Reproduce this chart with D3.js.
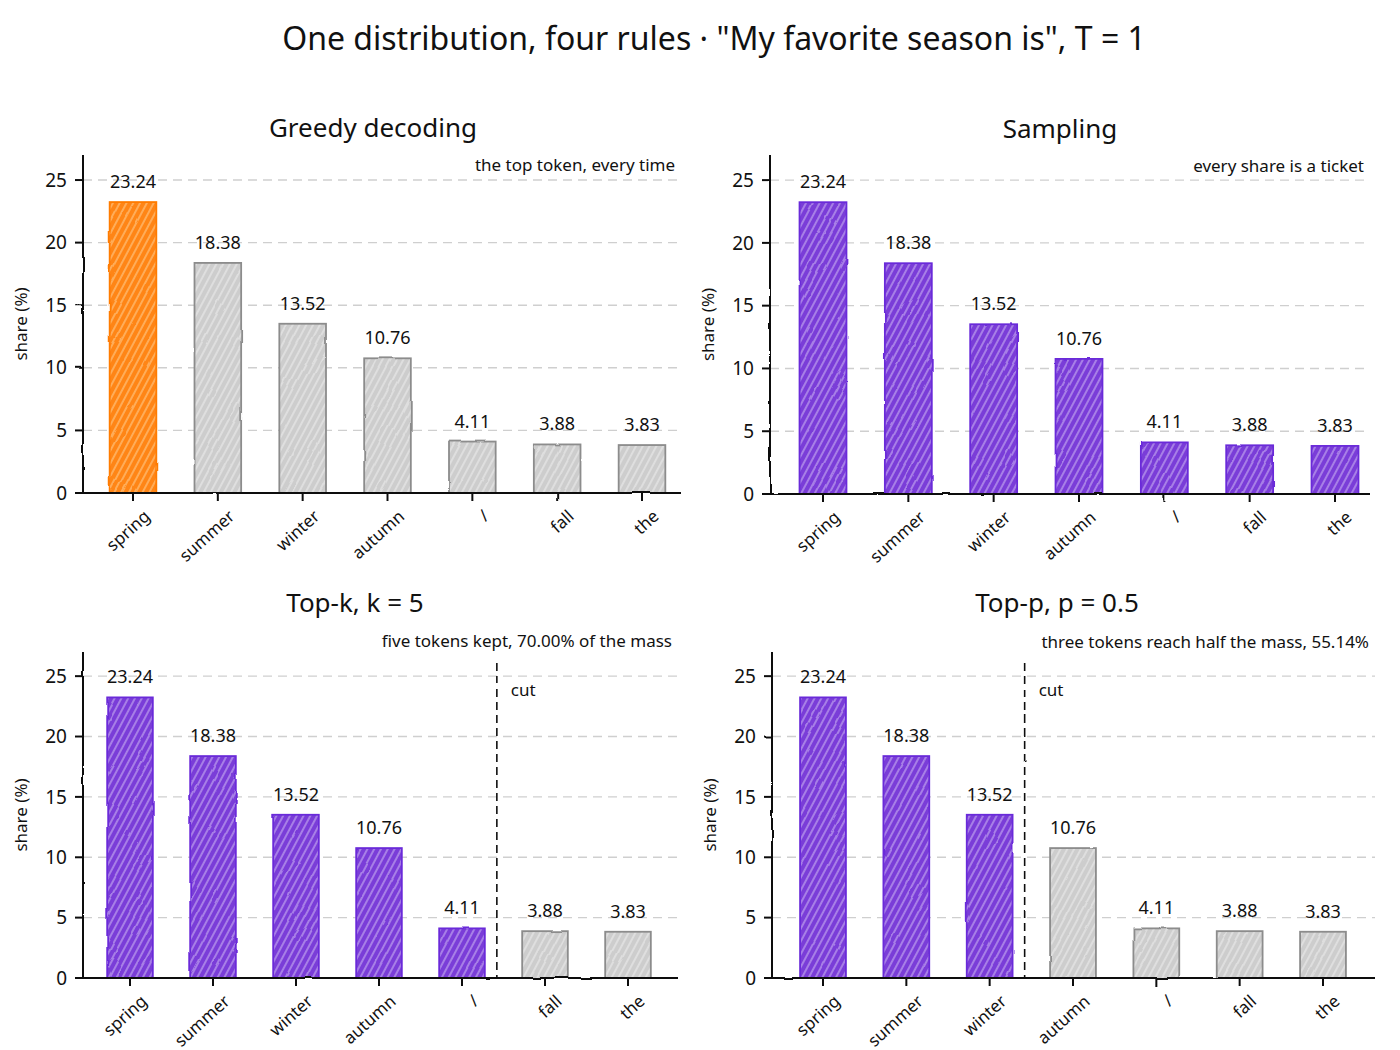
<!DOCTYPE html>
<html>
<head>
<meta charset="utf-8">
<script src="https://cdn.jsdelivr.net/npm/d3@7"></script>
<style>
  body { margin: 0; background: #fff; }
  text { font-family: "Noto Sans", "DejaVu Sans", sans-serif; fill: #111; }
</style>
</head>
<body>
<script>
// data
const tokens = ["spring", "summer", "winter", "autumn", "/", "fall", "the"];
const shares = [23.24, 18.38, 13.52, 10.76, 4.11, 3.88, 3.83];
const yTicks = [0, 5, 10, 15, 20, 25];
const gridTicks = [5, 10, 15, 20, 25];
const panelTitles = ["Greedy decoding", "Sampling", "Top-k, k = 5", "Top-p, p = 0.5"];
const panelNotes = [
  "the top token, every time",
  "every share is a ticket",
  "five tokens kept, 70.00% of the mass",
  "three tokens reach half the mass, 55.14%"
];
const keptCounts = [1, 7, 5, 3];
const cutAfter = [null, null, 5, 3];   // cut drawn between bar n-1 and n
const mainTitle = "One distribution, four rules \u00b7 \"My favorite season is\", T = 1";

const W = 1400, H = 1050;
const svg = d3.select("body").append("svg")
  .attr("width", W)
  .attr("height", H);

const defs = svg.append("defs");

// wobbly line filter for the hand drawn look
// userSpaceOnUse so zero-width lines (vertical cut) are not dropped
const filt = defs.append("filter").attr("id", "sketch")
  .attr("filterUnits", "userSpaceOnUse")
  .attr("x", 0).attr("y", 0).attr("width", W).attr("height", H);
filt.append("feTurbulence")
  .attr("type", "fractalNoise")
  .attr("baseFrequency", 0.04)
  .attr("numOctaves", 2)
  .attr("seed", 3)
  .attr("result", "noise");
filt.append("feDisplacementMap")
  .attr("in", "SourceGraphic")
  .attr("in2", "noise")
  .attr("scale", 2.2)
  .attr("xChannelSelector", "R")
  .attr("yChannelSelector", "G");

// hatch patterns: colour fill with pale diagonal strokes
function hatch(id, fill, stroke) {
  const p = defs.append("pattern")
    .attr("id", id)
    .attr("patternUnits", "userSpaceOnUse")
    .attr("width", 6)
    .attr("height", 6)
    .attr("patternTransform", "rotate(28)");
  p.append("rect").attr("width", 6).attr("height", 6).attr("fill", fill);
  p.append("line")
    .attr("x1", 3).attr("y1", 0).attr("x2", 3).attr("y2", 6)
    .attr("stroke", stroke).attr("stroke-width", 1.2).attr("opacity", 0.8);
}
hatch("h-orange", "#ff8512", "#ffd8a8");
hatch("h-purple", "#7a3ed8", "#d9c6f5");
hatch("h-gray", "#cdcdcd", "#f2f2f2");

const styles = {
  orange: { fill: "url(#h-orange)", edge: "#ff7b00" },
  purple: { fill: "url(#h-purple)", edge: "#6a2bd9" },
  gray:   { fill: "url(#h-gray)",   edge: "#8c8c8c" }
};

svg.append("text")
  .attr("x", 714)
  .attr("y", 50)
  .attr("text-anchor", "middle")
  .style("font-size", "32px")
  .text(mainTitle);

// panel frames (pixel boxes of the axes)
const frames = [
  { left: 83,  right: 681,  top: 155, base: 493, c0: 133, c6: 642,  titleX: 373,  titleY: 137, noteY: 171 },
  { left: 770, right: 1370, top: 155, base: 494, c0: 823, c6: 1335, titleX: 1060, titleY: 138, noteY: 172 },
  { left: 83,  right: 678,  top: 652, base: 978, c0: 130, c6: 628,  titleX: 355,  titleY: 612, noteY: 647 },
  { left: 772, right: 1375, top: 652, base: 978, c0: 823, c6: 1323, titleX: 1057, titleY: 612, noteY: 648 }
];

frames.forEach((f, pi) => {
  const g = svg.append("g");

  const x = d3.scaleLinear().domain([0, tokens.length - 1]).range([f.c0, f.c6]);
  const step = x(1) - x(0);
  const bw = step * 0.55;
  const y = d3.scaleLinear().domain([0, 27]).range([f.base, f.top]);

  // dashed grid, behind everything
  g.append("g")
    .selectAll("line")
    .data(gridTicks)
    .join("line")
    .attr("x1", f.left)
    .attr("x2", f.right)
    .attr("y1", d => y(d))
    .attr("y2", d => y(d))
    .attr("stroke", "#cfcfcf")
    .attr("stroke-width", 1.4)
    .attr("stroke-dasharray", "9,6");

  // bars
  const bars = g.append("g").attr("filter", "url(#sketch)");
  bars.selectAll("rect")
    .data(shares)
    .join("rect")
    .attr("x", (d, i) => x(i) - bw / 2)
    .attr("y", d => y(d))
    .attr("width", bw)
    .attr("height", d => y(0) - y(d))
    .attr("fill", (d, i) => {
      if (i >= keptCounts[pi]) return styles.gray.fill;
      return pi === 0 ? styles.orange.fill : styles.purple.fill;
    })
    .attr("stroke", (d, i) => {
      if (i >= keptCounts[pi]) return styles.gray.edge;
      return pi === 0 ? styles.orange.edge : styles.purple.edge;
    })
    .attr("stroke-width", 1.8);

  // value labels
  g.append("g")
    .selectAll("text")
    .data(shares)
    .join("text")
    .attr("x", (d, i) => x(i))
    .attr("y", d => y(d) - 14)
    .attr("text-anchor", "middle")
    .style("font-size", "18px")
    .text(d => d.toFixed(2));

  // cut line
  if (cutAfter[pi] !== null) {
    const cx = x(cutAfter[pi] - 0.58);
    g.append("line")
      .attr("x1", cx).attr("x2", cx)
      .attr("y1", f.top + 11).attr("y2", f.base)
      .attr("stroke", "#111")
      .attr("stroke-width", 1.6)
      .attr("stroke-dasharray", "8,5")
      .attr("filter", "url(#sketch)");
    g.append("text")
      .attr("x", cx + 14)
      .attr("y", f.top + 44)
      .style("font-size", "17px")
      .text("cut");
  }

  // spines
  const spines = g.append("g").attr("filter", "url(#sketch)")
    .attr("stroke", "#111").attr("stroke-width", 2).attr("fill", "none");
  spines.append("line")
    .attr("x1", f.left).attr("x2", f.left)
    .attr("y1", f.top).attr("y2", f.base);
  spines.append("line")
    .attr("x1", f.left - 6).attr("x2", f.right)
    .attr("y1", f.base).attr("y2", f.base);

  // y ticks
  spines.selectAll(".yt")
    .data(yTicks)
    .join("line")
    .attr("class", "yt")
    .attr("x1", f.left - 8).attr("x2", f.left)
    .attr("y1", d => y(d)).attr("y2", d => y(d));
  g.append("g")
    .selectAll("text")
    .data(yTicks)
    .join("text")
    .attr("x", f.left - 16)
    .attr("y", d => y(d))
    .attr("dy", "0.35em")
    .attr("text-anchor", "end")
    .style("font-size", "19px")
    .text(d => d);

  // x ticks
  spines.selectAll(".xt")
    .data(tokens)
    .join("line")
    .attr("class", "xt")
    .attr("x1", (d, i) => x(i)).attr("x2", (d, i) => x(i))
    .attr("y1", f.base).attr("y2", f.base + 8);
  g.append("g")
    .selectAll("text")
    .data(tokens)
    .join("text")
    .attr("transform", (d, i) => `translate(${x(i) + 10},${f.base + 16}) rotate(-42)`)
    .attr("text-anchor", "end")
    .attr("dy", "0.7em")
    .style("font-size", "17px")
    .text(d => d);

  // axis label
  g.append("text")
    .attr("transform", `translate(${f.left - 56},${(f.top + f.base) / 2}) rotate(-90)`)
    .attr("text-anchor", "middle")
    .style("font-size", "17px")
    .text("share (%)");

  // title and note
  g.append("text")
    .attr("x", f.titleX)
    .attr("y", f.titleY)
    .attr("text-anchor", "middle")
    .style("font-size", "26px")
    .text(panelTitles[pi]);
  g.append("text")
    .attr("x", f.right - 6)
    .attr("y", f.noteY)
    .attr("text-anchor", "end")
    .style("font-size", "17px")
    .text(panelNotes[pi]);
});
</script>
</body>
</html>
